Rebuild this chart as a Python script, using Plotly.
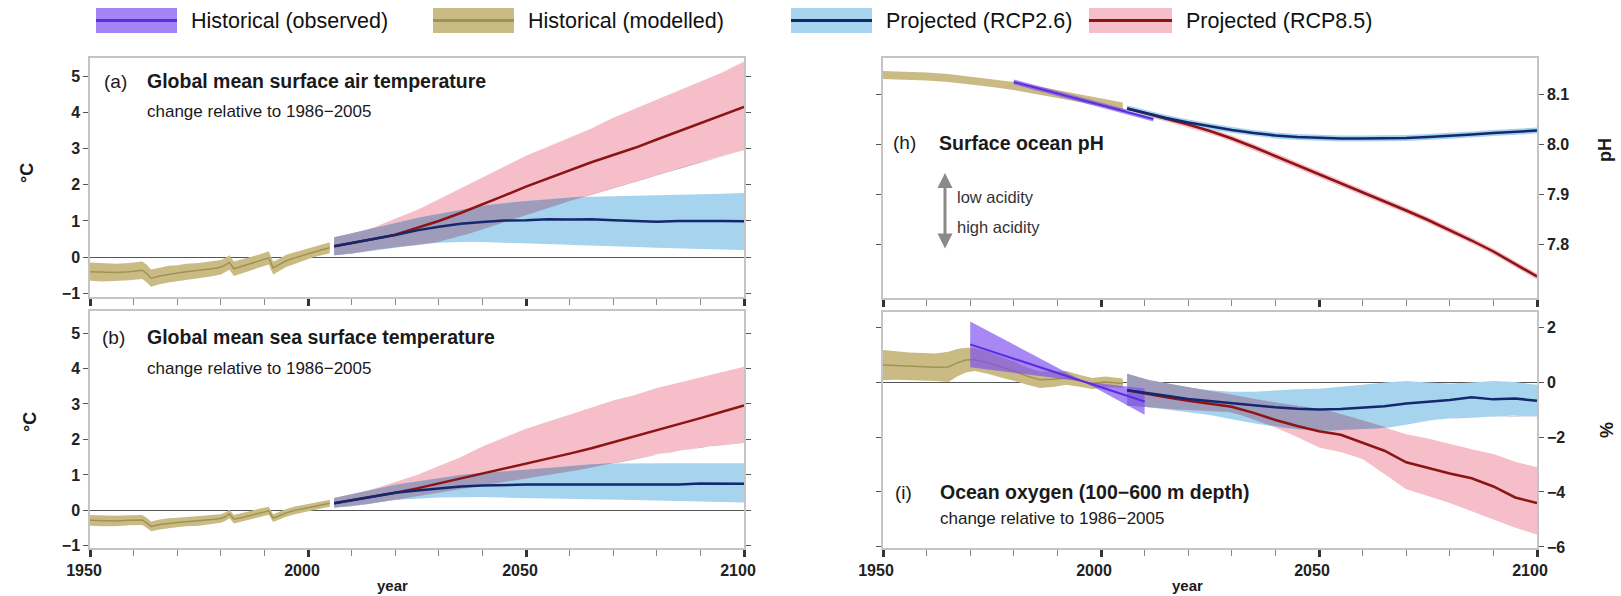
import numpy as np
import plotly.graph_objects as go

W, H = 1621, 596
FONT = "Liberation Sans, Arial, sans-serif"

# ---------------- colours ----------------
C_OBS_BAND = "rgba(125,80,240,0.68)"
C_OBS_SWATCH = "#a384f5"
C_OBS_LINE = "#5a2ee0"
C_MOD_BAND = "#cabb85"
C_MOD_LINE = "#9f9352"
C_26_BAND = "#a6d3ee"
C_26_LINE = "#14286e"
C_85_BAND = "#f5bec8"
C_85_LINE = "#8c1414"
C_BOTH = "#9f9cbb"

# ---------------- data ----------------
hist_years = [1950, 1953, 1956, 1959, 1962, 1963, 1964, 1966, 1968, 1970,
              1972, 1975, 1978, 1980, 1981, 1982, 1983, 1985, 1987, 1989,
              1990, 1991, 1992, 1993, 1995, 1997, 1999, 2001, 2003, 2005]

# (a) global mean surface air temperature, modelled history
tas_hist = [-0.40, -0.42, -0.42, -0.40, -0.36, -0.45, -0.58, -0.52, -0.47, -0.44,
            -0.40, -0.37, -0.32, -0.28, -0.22, -0.15, -0.32, -0.25, -0.17, -0.10,
            -0.06, -0.02, -0.30, -0.24, -0.10, -0.02, 0.06, 0.14, 0.20, 0.26]
tas_hist_spread = [0.25, 0.25, 0.24, 0.24, 0.24, 0.24, 0.24, 0.23, 0.23, 0.22,
                   0.22, 0.21, 0.21, 0.20, 0.20, 0.20, 0.20, 0.19, 0.19, 0.18,
                   0.18, 0.18, 0.18, 0.17, 0.17, 0.16, 0.16, 0.15, 0.15, 0.15]

# (b) global mean sea surface temperature, modelled history
sst_hist = [-0.28, -0.30, -0.30, -0.28, -0.27, -0.35, -0.45, -0.40, -0.36, -0.34,
            -0.32, -0.30, -0.26, -0.23, -0.18, -0.10, -0.25, -0.20, -0.13, -0.07,
            -0.04, -0.01, -0.22, -0.17, -0.07, 0.00, 0.05, 0.10, 0.15, 0.20]
sst_hist_spread = [0.15, 0.15, 0.15, 0.14, 0.14, 0.14, 0.14, 0.14, 0.14, 0.13,
                   0.13, 0.13, 0.13, 0.12, 0.12, 0.12, 0.12, 0.12, 0.12, 0.12,
                   0.11, 0.11, 0.11, 0.11, 0.11, 0.11, 0.10, 0.10, 0.10, 0.10]

proj_years = [2006, 2010, 2015, 2020, 2025, 2030, 2035, 2040, 2045, 2050,
              2055, 2060, 2065, 2070, 2075, 2080, 2085, 2090, 2095, 2100]

tas_26 = [0.30, 0.38, 0.50, 0.61, 0.74, 0.84, 0.92, 0.97, 1.01, 1.02,
          1.05, 1.04, 1.05, 1.02, 1.00, 0.98, 1.00, 1.01, 1.00, 0.99]
tas_26_lo = [0.05, 0.10, 0.18, 0.27, 0.34, 0.40, 0.42, 0.42, 0.40, 0.38,
             0.36, 0.34, 0.32, 0.30, 0.28, 0.26, 0.24, 0.22, 0.21, 0.20]
tas_26_hi = [0.55, 0.65, 0.80, 0.95, 1.08, 1.20, 1.32, 1.42, 1.50, 1.55,
             1.60, 1.65, 1.67, 1.68, 1.70, 1.70, 1.72, 1.72, 1.75, 1.77]
tas_85 = [0.30, 0.38, 0.50, 0.62, 0.80, 1.00, 1.22, 1.45, 1.70, 1.95,
          2.18, 2.40, 2.62, 2.82, 3.02, 3.25, 3.48, 3.70, 3.92, 4.15]
tas_85_lo = [0.05, 0.10, 0.20, 0.28, 0.33, 0.42, 0.58, 0.75, 0.95, 1.15,
             1.35, 1.55, 1.73, 1.90, 2.08, 2.25, 2.45, 2.62, 2.80, 2.95]
tas_85_hi = [0.55, 0.65, 0.82, 1.05, 1.30, 1.60, 1.90, 2.20, 2.50, 2.80,
             3.05, 3.30, 3.55, 3.85, 4.10, 4.35, 4.60, 4.85, 5.10, 5.40]

sst_26 = [0.20, 0.28, 0.38, 0.50, 0.56, 0.62, 0.67, 0.70, 0.72, 0.73,
          0.73, 0.73, 0.74, 0.73, 0.72, 0.72, 0.73, 0.76, 0.76, 0.75]
sst_26_lo = [0.08, 0.12, 0.20, 0.30, 0.33, 0.36, 0.38, 0.38, 0.36, 0.35,
             0.33, 0.32, 0.30, 0.30, 0.29, 0.28, 0.26, 0.25, 0.24, 0.22]
sst_26_hi = [0.35, 0.45, 0.58, 0.72, 0.82, 0.92, 1.00, 1.06, 1.10, 1.14,
             1.18, 1.25, 1.30, 1.32, 1.33, 1.33, 1.33, 1.33, 1.33, 1.33]
sst_85 = [0.20, 0.28, 0.38, 0.50, 0.62, 0.76, 0.90, 1.04, 1.17, 1.30,
          1.45, 1.60, 1.75, 1.92, 2.07, 2.25, 2.42, 2.60, 2.78, 2.96]
sst_85_lo = [0.08, 0.12, 0.20, 0.30, 0.38, 0.48, 0.60, 0.70, 0.80, 0.90,
             1.00, 1.10, 1.20, 1.32, 1.45, 1.58, 1.68, 1.78, 1.85, 1.90]
sst_85_hi = [0.35, 0.45, 0.60, 0.80, 1.00, 1.25, 1.50, 1.80, 2.05, 2.30,
             2.50, 2.70, 2.90, 3.10, 3.25, 3.45, 3.60, 3.75, 3.90, 4.05]

# (h) surface ocean pH
ph_hist_years = [1950, 1955, 1960, 1965, 1970, 1975, 1980, 1985, 1990, 1995, 2000, 2005]
ph_hist = [8.138, 8.137, 8.135, 8.132, 8.127, 8.122, 8.116, 8.108, 8.100, 8.092, 8.084, 8.075]
ph_obs_years = [1980, 2012]
ph_obs = [8.124, 8.050]
ph_26 = [8.071, 8.062, 8.052, 8.043, 8.035, 8.028, 8.022, 8.017, 8.014, 8.012,
         8.011, 8.011, 8.011, 8.012, 8.014, 8.016, 8.019, 8.022, 8.025, 8.027]
ph_85 = [8.071, 8.062, 8.051, 8.039, 8.026, 8.011, 7.994, 7.976, 7.958, 7.940,
         7.921, 7.903, 7.885, 7.867, 7.848, 7.828, 7.807, 7.785, 7.760, 7.735]
ph_hist_spread = 0.008
ph_obs_spread = 0.005
ph_proj_spread = 0.006

# (i) ocean oxygen, 100-600 m
o2_hist_years = [1950, 1953, 1956, 1959, 1962, 1965, 1967, 1969, 1971, 1974, 1977,
                 1980, 1983, 1986, 1989, 1992, 1995, 1998, 2001, 2003, 2005]
o2_hist = [0.62, 0.60, 0.58, 0.56, 0.54, 0.55, 0.70, 0.80, 0.82, 0.70, 0.55,
           0.40, 0.22, 0.08, 0.10, 0.15, 0.05, -0.05, 0.00, -0.02, -0.05]
o2_hist_spread = [0.55, 0.52, 0.50, 0.50, 0.50, 0.55, 0.50, 0.45, 0.42, 0.40, 0.38,
                  0.35, 0.32, 0.30, 0.28, 0.25, 0.22, 0.20, 0.20, 0.18, 0.18]
o2_obs_years = [1970, 1996, 2010]
o2_obs = [1.37, 0.02, -0.71]
o2_obs_spread = [0.83, 0.0, 0.48]
o2_26 = [-0.30, -0.38, -0.50, -0.62, -0.70, -0.78, -0.85, -0.92, -0.97, -1.00,
         -0.98, -0.93, -0.88, -0.78, -0.72, -0.65, -0.55, -0.63, -0.60, -0.68]
o2_26_lo = [-0.85, -0.90, -1.00, -1.10, -1.20, -1.35, -1.50, -1.62, -1.72, -1.78,
            -1.75, -1.72, -1.67, -1.55, -1.40, -1.32, -1.28, -1.25, -1.22, -1.25]
o2_26_hi = [0.30, 0.10, -0.05, -0.20, -0.30, -0.35, -0.35, -0.30, -0.26, -0.24,
            -0.18, -0.10, -0.02, 0.04, -0.02, -0.05, -0.02, 0.04, 0.00, -0.10]
o2_85 = [-0.30, -0.40, -0.55, -0.68, -0.78, -0.90, -1.12, -1.38, -1.60, -1.79,
         -1.92, -2.20, -2.50, -2.92, -3.13, -3.33, -3.50, -3.80, -4.20, -4.40]
o2_85_lo = [-0.85, -0.90, -0.98, -1.02, -1.05, -1.10, -1.35, -1.65, -2.00, -2.38,
            -2.55, -2.80, -3.35, -3.90, -4.15, -4.40, -4.70, -5.00, -5.30, -5.55]
o2_85_hi = [0.30, 0.10, -0.05, -0.20, -0.32, -0.45, -0.60, -0.75, -0.85, -0.95,
            -1.15, -1.40, -1.65, -1.90, -2.05, -2.25, -2.45, -2.62, -2.90, -3.10]

legend_labels = ["Historical (observed)", "Historical (modelled)",
                 "Projected (RCP2.6)", "Projected (RCP8.5)"]

# ---------------- helpers ----------------
fig = go.Figure()


def band(x, lo, hi, color, xa, ya):
    x = list(x)
    fig.add_trace(go.Scatter(x=x + x[::-1], y=list(hi) + list(lo)[::-1],
                             fill="toself", fillcolor=color, mode="lines",
                             line=dict(width=0), hoverinfo="skip",
                             showlegend=False, xaxis=xa, yaxis=ya))


def line(x, y, color, width, xa, ya):
    fig.add_trace(go.Scatter(x=list(x), y=list(y), mode="lines",
                             line=dict(color=color, width=width),
                             showlegend=False, xaxis=xa, yaxis=ya))


def spread_band(x, mid, spread, color, xa, ya):
    mid = np.asarray(mid, float)
    s = np.broadcast_to(np.asarray(spread, float), mid.shape)
    band(x, mid - s, mid + s, color, xa, ya)


def scenario_pair(x, lo26, hi26, lo85, hi85, xa, ya):
    band(x, lo85, hi85, C_85_BAND, xa, ya)
    band(x, lo26, hi26, C_26_BAND, xa, ya)
    # region covered by both projection ranges
    xf = np.arange(x[0], x[-1] + 0.01, 0.25)
    lo = np.maximum(np.interp(xf, x, lo26), np.interp(xf, x, lo85))
    hi = np.minimum(np.interp(xf, x, hi26), np.interp(xf, x, hi85))
    hi = np.maximum(hi, lo)
    band(xf, lo, hi, C_BOTH, xa, ya)


# (a)
spread_band(hist_years, tas_hist, tas_hist_spread, C_MOD_BAND, "x", "y")
scenario_pair(proj_years, tas_26_lo, tas_26_hi, tas_85_lo, tas_85_hi, "x", "y")
line(hist_years, tas_hist, C_MOD_LINE, 1.5, "x", "y")
line(proj_years, tas_85, C_85_LINE, 2.5, "x", "y")
line(proj_years, tas_26, C_26_LINE, 2.5, "x", "y")

# (b)
spread_band(hist_years, sst_hist, sst_hist_spread, C_MOD_BAND, "x2", "y2")
scenario_pair(proj_years, sst_26_lo, sst_26_hi, sst_85_lo, sst_85_hi, "x2", "y2")
line(hist_years, sst_hist, C_MOD_LINE, 1.5, "x2", "y2")
line(proj_years, sst_85, C_85_LINE, 2.5, "x2", "y2")
line(proj_years, sst_26, C_26_LINE, 2.5, "x2", "y2")

# (h)
spread_band(ph_hist_years, ph_hist, ph_hist_spread, C_MOD_BAND, "x3", "y3")
spread_band(ph_obs_years, ph_obs, ph_obs_spread, C_OBS_BAND, "x3", "y3")
spread_band(proj_years, ph_85, ph_proj_spread, C_85_BAND, "x3", "y3")
spread_band(proj_years, ph_26, ph_proj_spread, C_26_BAND, "x3", "y3")
line(ph_obs_years, ph_obs, C_OBS_LINE, 2, "x3", "y3")
line(proj_years, ph_85, C_85_LINE, 2.5, "x3", "y3")
line(proj_years, ph_26, C_26_LINE, 2.5, "x3", "y3")

# (i)
spread_band(o2_hist_years, o2_hist, o2_hist_spread, C_MOD_BAND, "x4", "y4")
scenario_pair(proj_years, o2_26_lo, o2_26_hi, o2_85_lo, o2_85_hi, "x4", "y4")
line(o2_hist_years, o2_hist, C_MOD_LINE, 1.5, "x4", "y4")
spread_band(o2_obs_years, o2_obs, o2_obs_spread, C_OBS_BAND, "x4", "y4")
line(proj_years, o2_85, C_85_LINE, 2.5, "x4", "y4")
line(proj_years, o2_26, C_26_LINE, 2.5, "x4", "y4")
line(o2_obs_years, o2_obs, C_OBS_LINE, 2, "x4", "y4")

# ---------------- axes ----------------
FRAME = "#c4c4c4"


def xaxis(dom, anchor, labels, shift):
    return dict(domain=[dom[0] / W, dom[1] / W], range=[1950, 2100], anchor=anchor,
                tickvals=[1950, 2000, 2050, 2100], ticks="outside", ticklen=7,
                tickwidth=2.5, tickcolor="#333",
                minor=dict(dtick=10, tick0=1950, ticks="outside", ticklen=6,
                           tickwidth=1, tickcolor="#888"),
                showticklabels=labels, ticklabelshift=shift,
                tickfont=dict(family=FONT, size=16, color="#222", weight="bold"),
                showline=True, linecolor=FRAME, linewidth=1.5, mirror=True,
                showgrid=False, zeroline=False, fixedrange=True, automargin=False)


def yaxis(dom, anchor, rng, vals, text, side, zero):
    return dict(domain=[1 - dom[1] / H, 1 - dom[0] / H], range=rng, anchor=anchor,
                tickvals=vals, ticktext=text, ticks="outside", ticklen=5,
                tickwidth=1.2, tickcolor="#555", side=side, mirror="ticks",
                tickfont=dict(family=FONT, size=16, color="#222", weight="bold"),
                showline=True, linecolor=FRAME, linewidth=1.5, showgrid=False,
                zeroline=zero, zerolinecolor="#555", zerolinewidth=1.2,
                fixedrange=True, automargin=False)


temp_ticks = [-1, 0, 1, 2, 3, 4, 5]
temp_text = ["\u22121", "0", "1", "2", "3", "4", "5"]

fig.update_layout(
    width=W, height=H, margin=dict(l=0, r=0, t=0, b=0, autoexpand=False),
    paper_bgcolor="white", plot_bgcolor="white", showlegend=False,
    font=dict(family=FONT, color="#222"),
    xaxis=xaxis((90, 744), "y", False, -6),
    yaxis=yaxis((58, 297), "x", [-1.1, 5.5], temp_ticks, temp_text, "left", True),
    xaxis2=xaxis((90, 744), "y2", True, -6),
    yaxis2=yaxis((311, 548), "x2", [-1.06, 5.62], temp_ticks, temp_text, "left", True),
    xaxis3=xaxis((883, 1537), "y3", False, -7),
    yaxis3=yaxis((58, 298), "x3", [7.692, 8.172], [7.8, 7.9, 8.0, 8.1],
                 ["7.8", "7.9", "8.0", "8.1"], "right", False),
    xaxis4=xaxis((883, 1537), "y4", True, -7),
    yaxis4=yaxis((312, 548), "x4", [-6.04, 2.55], [-6, -4, -2, 0, 2],
                 ["\u22126", "\u22124", "\u22122", "0", "2"], "right", True),
)

# ---------------- text ----------------
ann = []


def text(s, x, y, size, bold=False, color="#1a1a1a", xanchor="left", angle=0):
    ann.append(dict(text=s, x=x / W, y=1 - y / H, xref="paper", yref="paper",
                    xanchor=xanchor, yanchor="middle", showarrow=False,
                    textangle=angle,
                    font=dict(family=FONT, size=size, color=color,
                              weight="bold" if bold else "normal")))


text("(a)", 102, 81, 19)
text("Global mean surface air temperature", 145, 81, 19.5, bold=True)
text("change relative to 1986\u22122005", 145, 112, 17)
text("(b)", 100, 337, 19)
text("Global mean sea surface temperature", 145, 337, 19.5, bold=True)
text("change relative to 1986\u22122005", 145, 368, 17)
text("(h)", 891, 143, 19)
text("Surface ocean pH", 937, 143, 19.5, bold=True)
text("low acidity", 955, 197, 16.5, color="#333")
text("high acidity", 955, 227, 16.5, color="#333")
text("(i)", 893, 492, 19)
text("Ocean oxygen (100\u2212600 m depth)", 938, 492, 19.5, bold=True)
text("change relative to 1986\u22122005", 938, 518, 17)

text("\u00b0C", 27, 173, 18, bold=True, xanchor="center", angle=-90)
text("\u00b0C", 30, 422, 18, bold=True, xanchor="center", angle=-90)
text("pH", 1605, 150, 18, bold=True, xanchor="center", angle=-90)
text("%", 1607, 430, 18, bold=True, xanchor="center", angle=-90)
text("year", 392, 585, 15, bold=True, xanchor="center")
text("year", 1187, 585, 15, bold=True, xanchor="center")

# acidity arrow
ann.append(dict(x=945 / W, y=1 - 173 / H, xref="paper", yref="paper",
                ax=0, ay=77, axref="pixel", ayref="pixel", text="",
                showarrow=True, arrowside="end+start", arrowhead=2,
                startarrowhead=2, arrowsize=1, startarrowsize=1,
                arrowwidth=3, arrowcolor="#8a8a8a"))

# legend
shapes = []
legend_items = [
    (legend_labels[0], 96, 177, C_OBS_SWATCH, C_OBS_LINE),
    (legend_labels[1], 433, 514, C_MOD_BAND, C_MOD_LINE),
    (legend_labels[2], 791, 872, C_26_BAND, C_26_LINE),
    (legend_labels[3], 1089, 1172, C_85_BAND, C_85_LINE),
]
for label, x0, x1, fillc, linec in legend_items:
    shapes.append(dict(type="rect", xref="paper", yref="paper",
                       x0=x0 / W, x1=x1 / W, y0=1 - 33 / H, y1=1 - 8 / H,
                       fillcolor=fillc, line=dict(width=0)))
    shapes.append(dict(type="line", xref="paper", yref="paper",
                       x0=x0 / W, x1=x1 / W, y0=1 - 20.5 / H, y1=1 - 20.5 / H,
                       line=dict(color=linec, width=3)))
    text(label, x1 + 12, 21, 21.5, color="#111")

fig.update_layout(annotations=ann, shapes=shapes)
fig.write_html("out.html")
